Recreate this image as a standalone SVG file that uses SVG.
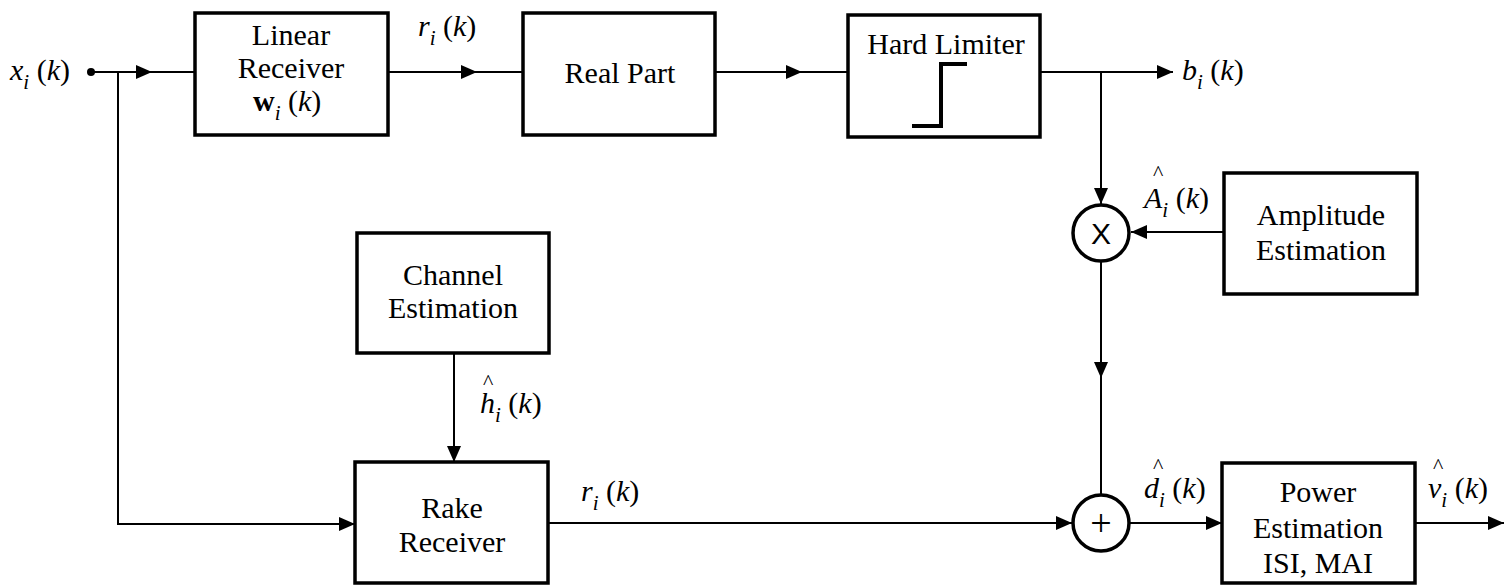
<svg xmlns="http://www.w3.org/2000/svg" width="1504" height="585" viewBox="0 0 1504 585">
  <style>
    .box { fill: #fff; stroke: #000; stroke-width: 3.5; }
    .wire { fill: none; stroke: #000; stroke-width: 2; }
    text { font-family: "Times New Roman", "Liberation Serif", Tinos, "Nimbus Roman", "Noto Serif", "DejaVu Serif", FreeSerif, serif; fill: #000; }
    .lbl { font-size: 30px; text-anchor: middle; }
    .math { font-size: 30px; }
    .it { font-style: italic; }
    .sub { font-style: italic; font-size: 21px; }
    .hat { font-size: 22px; }
  </style>
  <defs>
    <marker id="ah" viewBox="0 0 16 14" refX="16" refY="7" markerWidth="16" markerHeight="14" orient="auto" markerUnits="userSpaceOnUse">
      <path d="M0,0 L16,7 L0,14 z" fill="#000"/>
    </marker>
  </defs>

  <!-- connectors -->
  <g id="connectors">
    <circle cx="91" cy="72" r="4" fill="#000"/>
    <path class="wire" d="M91,72 H152" marker-end="url(#ah)"/>
    <path class="wire" d="M152,72 H195"/>
    <path class="wire" d="M118,72 V524 H355" marker-end="url(#ah)"/>
    <path class="wire" d="M388,72 H477" marker-end="url(#ah)"/>
    <path class="wire" d="M477,72 H523"/>
    <path class="wire" d="M715,72 H802" marker-end="url(#ah)"/>
    <path class="wire" d="M802,72 H848"/>
    <path class="wire" d="M1040,72 H1173" marker-end="url(#ah)"/>
    <path class="wire" d="M1101,72 V204" marker-end="url(#ah)"/>
    <path class="wire" d="M1224,232 H1131" marker-end="url(#ah)"/>
    <path class="wire" d="M1101,262 V378" marker-end="url(#ah)"/>
    <path class="wire" d="M1101,378 V494"/>
    <path class="wire" d="M454,353 V462" marker-end="url(#ah)"/>
    <path class="wire" d="M548,523 H1072" marker-end="url(#ah)"/>
    <path class="wire" d="M1130,523 H1222" marker-end="url(#ah)"/>
    <path class="wire" d="M1415,523 H1504" marker-end="url(#ah)"/>
  </g>

  <!-- signal labels -->
  <g id="signal-labels">
    <text class="math" x="10" y="80"><tspan class="it">x</tspan><tspan class="sub" dy="9">i</tspan><tspan dy="-9"> (</tspan><tspan class="it">k</tspan>)</text>
    <text class="math" x="418" y="36"><tspan class="it">r</tspan><tspan class="sub" dy="9">i</tspan><tspan dy="-9"> (</tspan><tspan class="it">k</tspan>)</text>
    <text class="math" x="1182" y="80"><tspan class="it">b</tspan><tspan class="sub" dy="9">i</tspan><tspan dy="-9"> (</tspan><tspan class="it">k</tspan>)</text>
    <text class="hat" x="1153" y="180">^</text>
    <text class="math" x="1144" y="208"><tspan class="it">A</tspan><tspan class="sub" dy="9">i</tspan><tspan dy="-9"> (</tspan><tspan class="it">k</tspan>)</text>
    <text class="hat" x="483" y="389">^</text>
    <text class="math" x="480" y="413"><tspan class="it">h</tspan><tspan class="sub" dy="9">i</tspan><tspan dy="-9"> (</tspan><tspan class="it">k</tspan>)</text>
    <text class="math" x="581" y="501"><tspan class="it">r</tspan><tspan class="sub" dy="9">i</tspan><tspan dy="-9"> (</tspan><tspan class="it">k</tspan>)</text>
    <text class="hat" x="1153" y="473">^</text>
    <text class="math" x="1144" y="498"><tspan class="it">d</tspan><tspan class="sub" dy="9">i</tspan><tspan dy="-9"> (</tspan><tspan class="it">k</tspan>)</text>
    <text class="hat" x="1433" y="473">^</text>
    <text class="math" x="1428" y="498"><tspan class="it">v</tspan><tspan class="sub" dy="9">i</tspan><tspan dy="-9"> (</tspan><tspan class="it">k</tspan>)</text>
  </g>

  <g id="linear-receiver">
    <rect class="box" x="195" y="13" width="193" height="122"/>
    <text class="lbl" x="291" y="45">Linear</text>
    <text class="lbl" x="291" y="78">Receiver</text>
    <text class="math" x="253" y="111"><tspan font-weight="bold">w</tspan><tspan class="sub" dy="9">i</tspan><tspan dy="-9"> (</tspan><tspan class="it">k</tspan>)</text>
  </g>

  <g id="real-part">
    <rect class="box" x="523" y="13" width="192" height="122"/>
    <text class="lbl" x="620" y="83">Real Part</text>
  </g>

  <g id="hard-limiter">
    <rect class="box" x="848" y="15" width="192" height="122"/>
    <text class="lbl" x="946" y="54">Hard Limiter</text>
    <path d="M912,126 H941 V64 H967" fill="none" stroke="#000" stroke-width="4"/>
  </g>

  <g id="multiplier">
    <circle cx="1101" cy="233" r="28" fill="#fff" stroke="#000" stroke-width="3.5"/>
    <text x="1101" y="244" style="font-family: 'Liberation Sans', Arial, sans-serif" font-size="30" text-anchor="middle">X</text>
  </g>

  <g id="amplitude-estimation">
    <rect class="box" x="1224" y="173" width="193" height="121"/>
    <text class="lbl" x="1321" y="225">Amplitude</text>
    <text class="lbl" x="1321" y="260">Estimation</text>
  </g>

  <g id="channel-estimation">
    <rect class="box" x="357" y="233" width="192" height="120"/>
    <text class="lbl" x="453" y="285">Channel</text>
    <text class="lbl" x="453" y="318">Estimation</text>
  </g>

  <g id="rake-receiver">
    <rect class="box" x="355" y="462" width="193" height="121"/>
    <text class="lbl" x="452" y="518">Rake</text>
    <text class="lbl" x="452" y="552">Receiver</text>
  </g>

  <g id="adder">
    <circle cx="1101" cy="523" r="28" fill="#fff" stroke="#000" stroke-width="3.5"/>
    <text x="1101" y="536" font-size="38" text-anchor="middle">+</text>
  </g>

  <g id="power-estimation">
    <rect class="box" x="1222" y="463" width="193" height="120"/>
    <text class="lbl" x="1318" y="502">Power</text>
    <text class="lbl" x="1318" y="538">Estimation</text>
    <text class="lbl" x="1318" y="573">ISI, MAI</text>
  </g>
</svg>
